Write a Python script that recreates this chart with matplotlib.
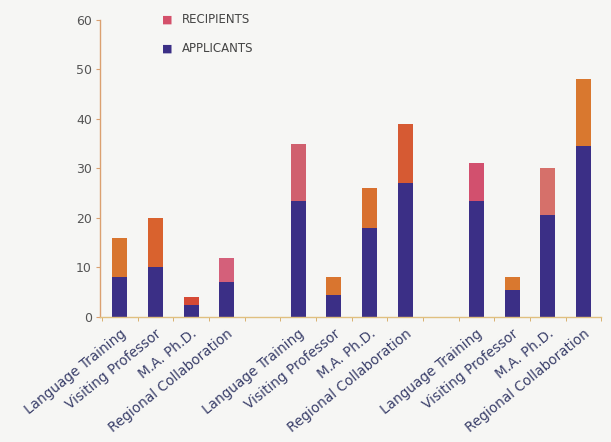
import numpy as np
import matplotlib.pyplot as plt

programs = ["Language Training", "Visiting Professor", "M.A. Ph.D.", "Regional Collaboration"]
labels = programs * 3

# applicants (lower segment) and total height of each stacked bar
applicants = [8, 10, 2.5, 7, 23.5, 4.5, 18, 27, 23.5, 5.5, 20.5, 34.5]
totals = [16, 20, 4, 12, 35, 8, 26, 39, 31, 8, 30, 48]
recipients = [t - a for t, a in zip(totals, applicants)]

navy = "#3b2f86"
top_colors = ["#d8752f", "#d9622e", "#d64a35", "#d4607a",
              "#d0606e", "#d9752f", "#d8702f", "#d65a33",
              "#d2506e", "#d9782f", "#d6706a", "#d9782f"]

pos = np.array([0, 1, 2, 3, 5, 6, 7, 8, 10, 11, 12, 13])

fig = plt.figure(figsize=(6.11, 4.42), dpi=100)
fig.patch.set_facecolor("#f6f6f4")
ax = fig.add_axes([0.164, 0.283, 0.82, 0.672])
ax.set_facecolor("#f6f6f4")

ax.bar(pos, applicants, width=0.42, color=navy, zorder=2)
ax.bar(pos, recipients, width=0.42, bottom=applicants, color=top_colors, zorder=2)

ax.set_xlim(-0.55, 13.45)
ax.set_ylim(0, 60)
ax.set_yticks(range(0, 61, 10))
ax.tick_params(axis="y", length=3, width=0.8, color="#d9a070", labelcolor="#555555",
               labelsize=9, pad=3)

ax.set_xticks(pos)
ax.set_xticklabels(labels, rotation=39, ha="right", rotation_mode="anchor",
                   fontsize=9.8, color="#3a3f6a")
ax.set_xticks(np.arange(-0.5, 13.6, 1), minor=True)
ax.tick_params(axis="x", which="major", length=0, pad=7)
ax.tick_params(axis="x", which="minor", length=3, width=0.7, color="#d9b070")

for s in ["top", "right"]:
    ax.spines[s].set_visible(False)
ax.spines["left"].set_color("#dba070")
ax.spines["bottom"].set_color("#e0c080")
ax.spines["left"].set_linewidth(1.0)
ax.spines["bottom"].set_linewidth(1.0)

# legend drawn as two small squares with captions
fig.text(0.274, 0.956, "\u25a0", color="#d4506a", fontsize=8, va="center", ha="center")
fig.text(0.297, 0.956, "RECIPIENTS", color="#444444", fontsize=8.5, va="center",
         family="Liberation Sans Narrow")
fig.text(0.274, 0.891, "\u25a0", color=navy, fontsize=8, va="center", ha="center")
fig.text(0.297, 0.891, "APPLICANTS", color="#444444", fontsize=8.5, va="center",
         family="Liberation Sans Narrow")

fig.savefig("out.png", dpi=100, facecolor=fig.get_facecolor())
